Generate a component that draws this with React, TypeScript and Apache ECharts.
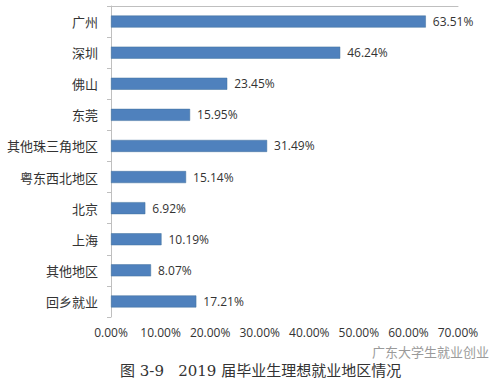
import React, { useEffect, useRef } from "react";
import * as echarts from "echarts";

const categories = ["广州", "深圳", "佛山", "东莞", "其他珠三角地区", "粤东西北地区", "北京", "上海", "其他地区", "回乡就业"];
const values = [63.51, 46.24, 23.45, 15.95, 31.49, 15.14, 6.92, 10.19, 8.07, 17.21];
const caption = "图 3-9   2019 届毕业生理想就业地区情况";
const watermark = "广东大学生就业创业";

export default function App() {
  const ref = useRef<HTMLDivElement>(null);
  useEffect(() => {
    const chart = echarts.init(ref.current!, null, { renderer: "svg" });
    chart.setOption({
      animation: false,
      backgroundColor: "#ffffff",
      grid: { left: 111, top: 6, width: 347, height: 311, containLabel: false },
      xAxis: [
        {
          type: "value",
          min: 0,
          max: 70,
          interval: 10,
          position: "bottom",
          axisLine: { show: false },
          axisTick: { show: false },
          splitLine: { show: false },
          axisLabel: {
            formatter: (v: number) => v.toFixed(2) + "%",
            color: "#333",
            fontSize: 12,
            fontFamily: "Open Sans, Noto Sans, sans-serif",
            margin: 9,
          },
        },
        {
          type: "value",
          min: 0,
          max: 70,
          interval: 10,
          position: "top",
          axisLine: { show: true, lineStyle: { color: "#bfbfbf", width: 1 } },
          axisTick: { show: false },
          splitLine: { show: false },
          axisLabel: { show: false },
        },
      ],
      yAxis: {
        type: "category",
        data: categories,
        inverse: true,
        axisLine: { show: true, lineStyle: { color: "#bfbfbf", width: 1 } },
        axisTick: { show: true, length: 4, lineStyle: { color: "#bfbfbf" } },
        axisLabel: {
          color: "#333",
          fontSize: 13,
          fontFamily: "Noto Sans CJK SC, sans-serif",
          margin: 13,
        },
      },
      series: [
        {
          type: "bar",
          data: values,
          barWidth: 12,
          itemStyle: { color: "#4f81bd", borderColor: "#41719c", borderWidth: 0.5 },
          label: {
            show: true,
            position: "right",
            distance: 7,
            formatter: (p: any) => p.value.toFixed(2) + "%",
            color: "#333",
            fontSize: 12,
            fontFamily: "Open Sans, Noto Sans, sans-serif",
          },
        },
      ],
      graphic: [
        {
          type: "text",
          left: 120,
          top: 363,
          style: {
            text: caption,
            fontSize: 15,
            fill: "#333",
            fontFamily: "DejaVu Serif, Noto Sans CJK SC, serif",
          },
        },
        {
          type: "text",
          left: 372,
          top: 345,
          style: {
            text: watermark,
            fontSize: 13,
            fill: "#9a9a9a",
            fontFamily: "Noto Sans CJK SC, sans-serif",
          },
        },
      ],
    });
    return () => chart.dispose();
  }, []);
  return <div ref={ref} style={{ width: 493, height: 381, position: "absolute", left: 0, top: 0 }} />;
}
